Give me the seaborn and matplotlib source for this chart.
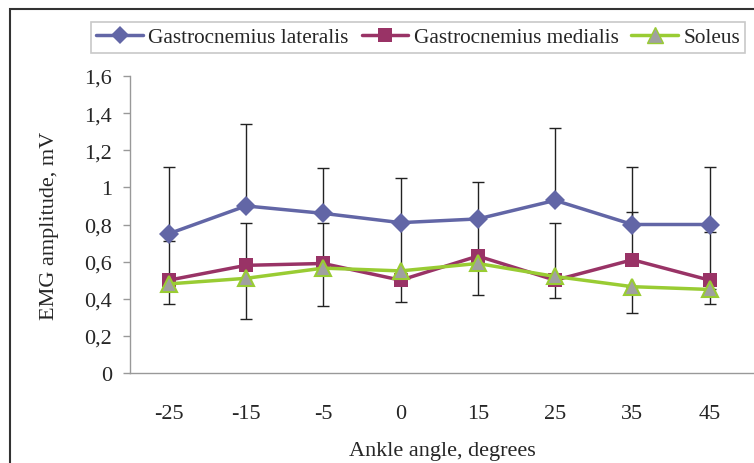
import matplotlib
matplotlib.use('Agg')
import matplotlib.pyplot as plt
from matplotlib.patches import Rectangle
from matplotlib.lines import Line2D
import pandas as pd
import seaborn as sns

# Data
angles = ['-25', '-15', '-5', '0', '15', '25', '35', '45']
gl = [0.75, 0.90, 0.86, 0.81, 0.83, 0.93, 0.80, 0.80]
gm = [0.50, 0.58, 0.59, 0.50, 0.63, 0.50, 0.61, 0.50]
sol = [0.48, 0.51, 0.565, 0.55, 0.59, 0.52, 0.465, 0.45]
# one-sided error bars (GL and GM upward, Soleus downward)
gl_err = [0.36, 0.44, 0.245, 0.24, 0.20, 0.39, 0.31, 0.31]
gm_err = [0.21, 0.23, 0.22, 0.31, 0.20, 0.31, 0.26, 0.26]
sol_err = [0.11, 0.22, 0.205, 0.17, 0.17, 0.115, 0.14, 0.08]

names = ['Gastrocnemius lateralis', 'Gastrocnemius medialis', 'Soleus']
colors = {'Gastrocnemius lateralis': '#6266A6',
          'Gastrocnemius medialis': '#993366',
          'Soleus': '#99CC33'}

df = pd.DataFrame({
    'angle': angles * 3,
    'amp': gl + gm + sol,
    'muscle': [names[0]] * 8 + [names[1]] * 8 + [names[2]] * 8,
})

sns.set_theme(style='white')
plt.rcParams['font.family'] = ['Liberation Serif', 'DejaVu Serif']

fig = plt.figure(figsize=(7.54, 4.64), dpi=100)
ax = fig.add_axes([130 / 754, 90 / 464, 624 / 754, 297 / 464])

# error bars first so that markers sit on top
xs = list(range(len(angles)))
ax.errorbar(xs, gl, yerr=[[0] * 8, gl_err], fmt='none', ecolor='#222222',
            elinewidth=1, capsize=4, capthick=1, zorder=1)
ax.errorbar(xs, gm, yerr=[[0] * 8, gm_err], fmt='none', ecolor='#222222',
            elinewidth=1, capsize=4, capthick=1, zorder=1)
ax.errorbar(xs, sol, yerr=[sol_err, [0] * 8], fmt='none', ecolor='#222222',
            elinewidth=1, capsize=4, capthick=1, zorder=1)

sns.lineplot(data=df, x='angle', y='amp', hue='muscle', style='muscle',
             palette=colors, markers={names[0]: 'D', names[1]: 's', names[2]: '^'},
             dashes=False, linewidth=2.5, markersize=10, ax=ax, zorder=3,
             legend=False)
# Soleus triangles: grey fill, green edge
for line in ax.get_lines():
    if line.get_marker() == '^':
        line.set_markerfacecolor('#A0A0A0')
        line.set_markeredgecolor('#99CC33')
        line.set_markersize(12)
        line.set_markeredgewidth(1.5)
    elif line.get_marker() in ('D', 's'):
        line.set_markeredgewidth(0)

ax.set_xlim(-0.5, -0.5 + 624 / 77.3)
ax.set_ylim(0, 1.6)
ticks = [0, 0.2, 0.4, 0.6, 0.8, 1.0, 1.2, 1.4, 1.6]
ax.set_yticks(ticks)
ax.set_yticklabels(['0', '0,2', '0,4', '0,6', '0,8', '1', '1,2', '1,4', '1,6'])
ax.set_xticks(xs)
ax.set_xticklabels(angles)

for s in ['top', 'right']:
    ax.spines[s].set_visible(False)
for s in ['left', 'bottom']:
    ax.spines[s].set_color('#999999')
    ax.spines[s].set_linewidth(1)
ax.tick_params(axis='y', direction='out', length=5, width=1, color='#999999',
               left=True, labelsize=16, pad=8)
ax.tick_params(axis='x', length=0, labelsize=16, pad=22)

ax.set_xlabel('Ankle angle, degrees', fontsize=16, labelpad=13)
ax.set_ylabel('EMG amplitude, mV', fontsize=16, labelpad=18)

# legend
handles = [
    Line2D([], [], color=colors[names[0]], marker='D', markersize=9, lw=2.5, markeredgewidth=0),
    Line2D([], [], color=colors[names[1]], marker='s', markersize=10, lw=2.5, markeredgewidth=0),
    Line2D([], [], color=colors[names[2]], marker='^', markersize=11, lw=2.5,
           markerfacecolor='#A0A0A0', markeredgecolor='#99CC33'),
]
leg = fig.legend(handles, names, loc='upper left', bbox_to_anchor=(91 / 754, 1 - 23 / 464),
                 ncol=3, fontsize=15.3, frameon=True, fancybox=False, handlelength=2.2,
                 handletextpad=0.25, columnspacing=0.6, borderpad=0.25,
                 borderaxespad=0, edgecolor='#BBBBBB')
leg.get_frame().set_linewidth(1.2)

# outer chart frame (cropped at right and bottom)
fig.patches.append(Rectangle((9.5 / 754, -0.1), 2, 1 - 10 / 464 + 0.1,
                             transform=fig.transFigure, fill=False,
                             edgecolor='#333333', linewidth=1.5))

fig.savefig('out.png', dpi=100)
